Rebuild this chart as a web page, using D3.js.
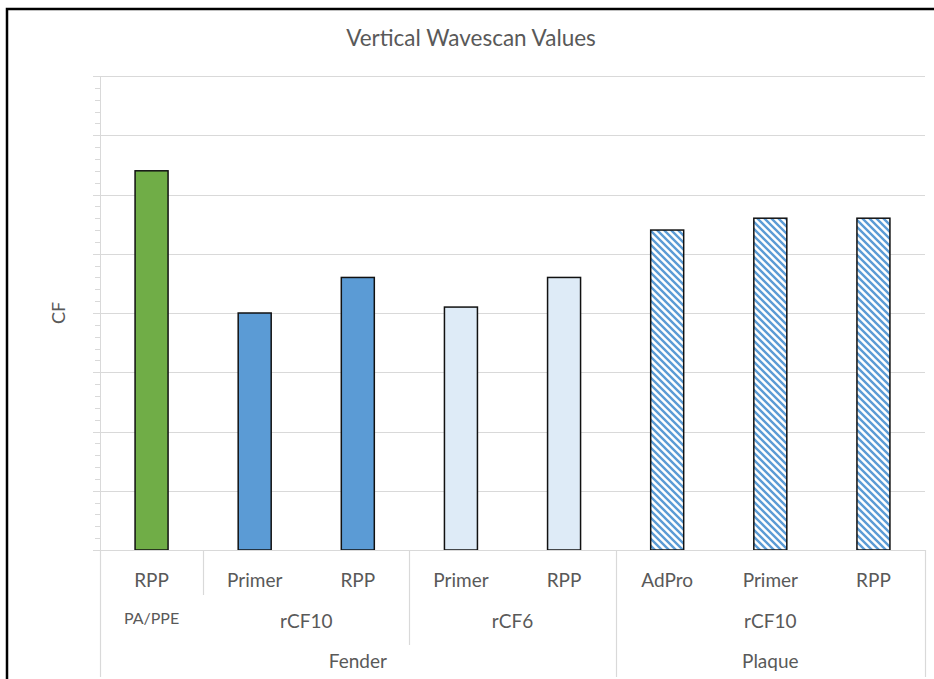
<!DOCTYPE html>
<html>
<head>
<meta charset="utf-8">
<script src="https://cdn.jsdelivr.net/npm/d3@7"></script>
<style>
  body { margin: 0; background: #fff; }
  text { font-family: Lato, "Open Sans", sans-serif; fill: #595959; }
</style>
</head>
<body>
<div id="chart"></div>
<script>
// category levels, innermost first
var level1 = ["RPP", "Primer", "RPP", "Primer", "RPP", "AdPro", "Primer", "RPP"];
var level2 = ["PA/PPE", "rCF10", "rCF10", "rCF6", "rCF6", "rCF10", "rCF10", "rCF10"];
var level3 = ["Fender", "Fender", "Fender", "Fender", "Fender", "Plaque", "Plaque", "Plaque"];
var values = [6.4, 4.0, 4.6, 4.1, 4.6, 5.4, 5.6, 5.6];
var yMax = 8;

var W = 934, H = 679;
var pLeft = 100, pRight = 925, pTop = 76, pBottom = 550;

var svg = d3.select("#chart").append("svg").attr("width", W).attr("height", H);

// hatch for the plaque bars
var defs = svg.append("defs");
var pat = defs.append("pattern").attr("id", "hatch")
    .attr("patternUnits", "userSpaceOnUse").attr("width", 7).attr("height", 7);
pat.append("rect").attr("width", 7).attr("height", 7).attr("fill", "#fff");
pat.append("path").attr("d", "M0,0L7,7M-1,6L1,8M6,-1L8,1")
    .attr("stroke", "#5b9bd5").attr("stroke-width", 2.4);

// outer frame
svg.append("rect").attr("x", 7).attr("y", 9).attr("width", 1000).attr("height", 800)
    .attr("fill", "none").attr("stroke", "#000").attr("stroke-width", 2.5);

var x = d3.scaleBand().domain(d3.range(values.length)).range([pLeft, pRight])
    .paddingInner(0.68).paddingOuter(0.34);
var y = d3.scaleLinear().domain([0, yMax]).range([pBottom, pTop]);

// left edge of category slot i (i == n gives the right end)
function edge(i) {
  if (i >= values.length) return pRight;
  return x(i) + x.bandwidth() / 2 - x.step() / 2;
}
function fillFor(i) {
  if (level2[i] == "PA/PPE") return "#70ad47";
  if (level3[i] == "Plaque") return "url(#hatch)";
  if (level2[i] == "rCF6") return "#deebf7";
  return "#5b9bd5";
}

// minor ticks
svg.append("g").selectAll("line").data(d3.range(0, yMax + 0.001, 0.2)).enter()
  .append("line")
    .attr("x1", 95).attr("x2", pLeft)
    .attr("y1", function(d) { return Math.round(y(d)) + 0.5; })
    .attr("y2", function(d) { return Math.round(y(d)) + 0.5; })
    .attr("stroke", "#d9d9d9");

// gridlines
svg.append("g").selectAll("line").data(y.ticks(yMax)).enter()
  .append("line")
    .attr("x1", 93).attr("x2", pRight)
    .attr("y1", function(d) { return Math.round(y(d)) + 0.5; })
    .attr("y2", function(d) { return Math.round(y(d)) + 0.5; })
    .attr("stroke", "#d9d9d9").attr("stroke-width", 1.2);

// value axis line
svg.append("line").attr("x1", pLeft + 0.5).attr("x2", pLeft + 0.5)
    .attr("y1", pTop).attr("y2", pBottom).attr("stroke", "#d9d9d9");

// bars
svg.append("g").selectAll("rect").data(values).enter()
  .append("rect")
    .attr("x", function(d, i) { return x(i); })
    .attr("y", function(d) { return y(d); })
    .attr("width", x.bandwidth())
    .attr("height", function(d) { return y(0) - y(d); })
    .attr("fill", function(d, i) { return fillFor(i); })
    .attr("stroke", "#111").attr("stroke-width", 1.5);

// multi level category axis
var rowBottom = [595, 645, 677];
var sep = svg.append("g").attr("stroke", "#d9d9d9").attr("stroke-width", 1.2);
for (var i = 0; i <= values.length; i++) {
  var depth = 0;
  if (i == 0 || i == values.length || level3[i] != level3[i - 1]) depth = 3;
  else if (level2[i] != level2[i - 1]) depth = level2[i - 1] == "PA/PPE" ? 1 : 2;
  else continue;
  var ex = Math.round(edge(i)) + 0.5;
  sep.append("line").attr("x1", ex).attr("x2", ex)
      .attr("y1", pBottom).attr("y2", rowBottom[depth - 1]);
}
svg.append("line").attr("x1", 93).attr("x2", pRight)
    .attr("y1", pBottom + 0.5).attr("y2", pBottom + 0.5)
    .attr("stroke", "#d9d9d9").attr("stroke-width", 1.2);

svg.append("g").selectAll("text").data(level1).enter()
  .append("text")
    .attr("x", function(d, i) { return x(i) + x.bandwidth() / 2; })
    .attr("y", 587)
    .attr("text-anchor", "middle").style("font-size", "19px")
    .text(function(d) { return d; });

// group consecutive runs
function runs(keys, labels) {
  var out = [];
  keys.forEach(function(k, i) {
    var last = out[out.length - 1];
    if (last && last.key == k) last.end = i;
    else out.push({ key: k, label: labels[i], start: i, end: i });
  });
  return out;
}
var g2 = runs(level2.map(function(d, i) { return level3[i] + "|" + d; }), level2);
var g3 = runs(level3, level3);

svg.append("g").selectAll("text").data(g2).enter()
  .append("text")
    .attr("x", function(d) { return (edge(d.start) + edge(d.end + 1)) / 2; })
    .attr("y", function(d) { return d.label == "PA/PPE" ? 624 : 628; })
    .attr("text-anchor", "middle")
    .style("font-size", function(d) { return d.label == "PA/PPE" ? "16px" : "19px"; })
    .text(function(d) { return d.label; });

svg.append("g").selectAll("text").data(g3).enter()
  .append("text")
    .attr("x", function(d) { return (edge(d.start) + edge(d.end + 1)) / 2; })
    .attr("y", 668)
    .attr("text-anchor", "middle").style("font-size", "19px")
    .text(function(d) { return d.label; });

// axis title
svg.append("text").attr("transform", "translate(65,313) rotate(-90)")
    .attr("text-anchor", "middle").style("font-size", "18px").text("CF");

// chart title
svg.append("text").attr("x", 471).attr("y", 46)
    .attr("text-anchor", "middle").style("font-size", "22.5px")
    .text("Vertical Wavescan Values");
</script>
</body>
</html>
